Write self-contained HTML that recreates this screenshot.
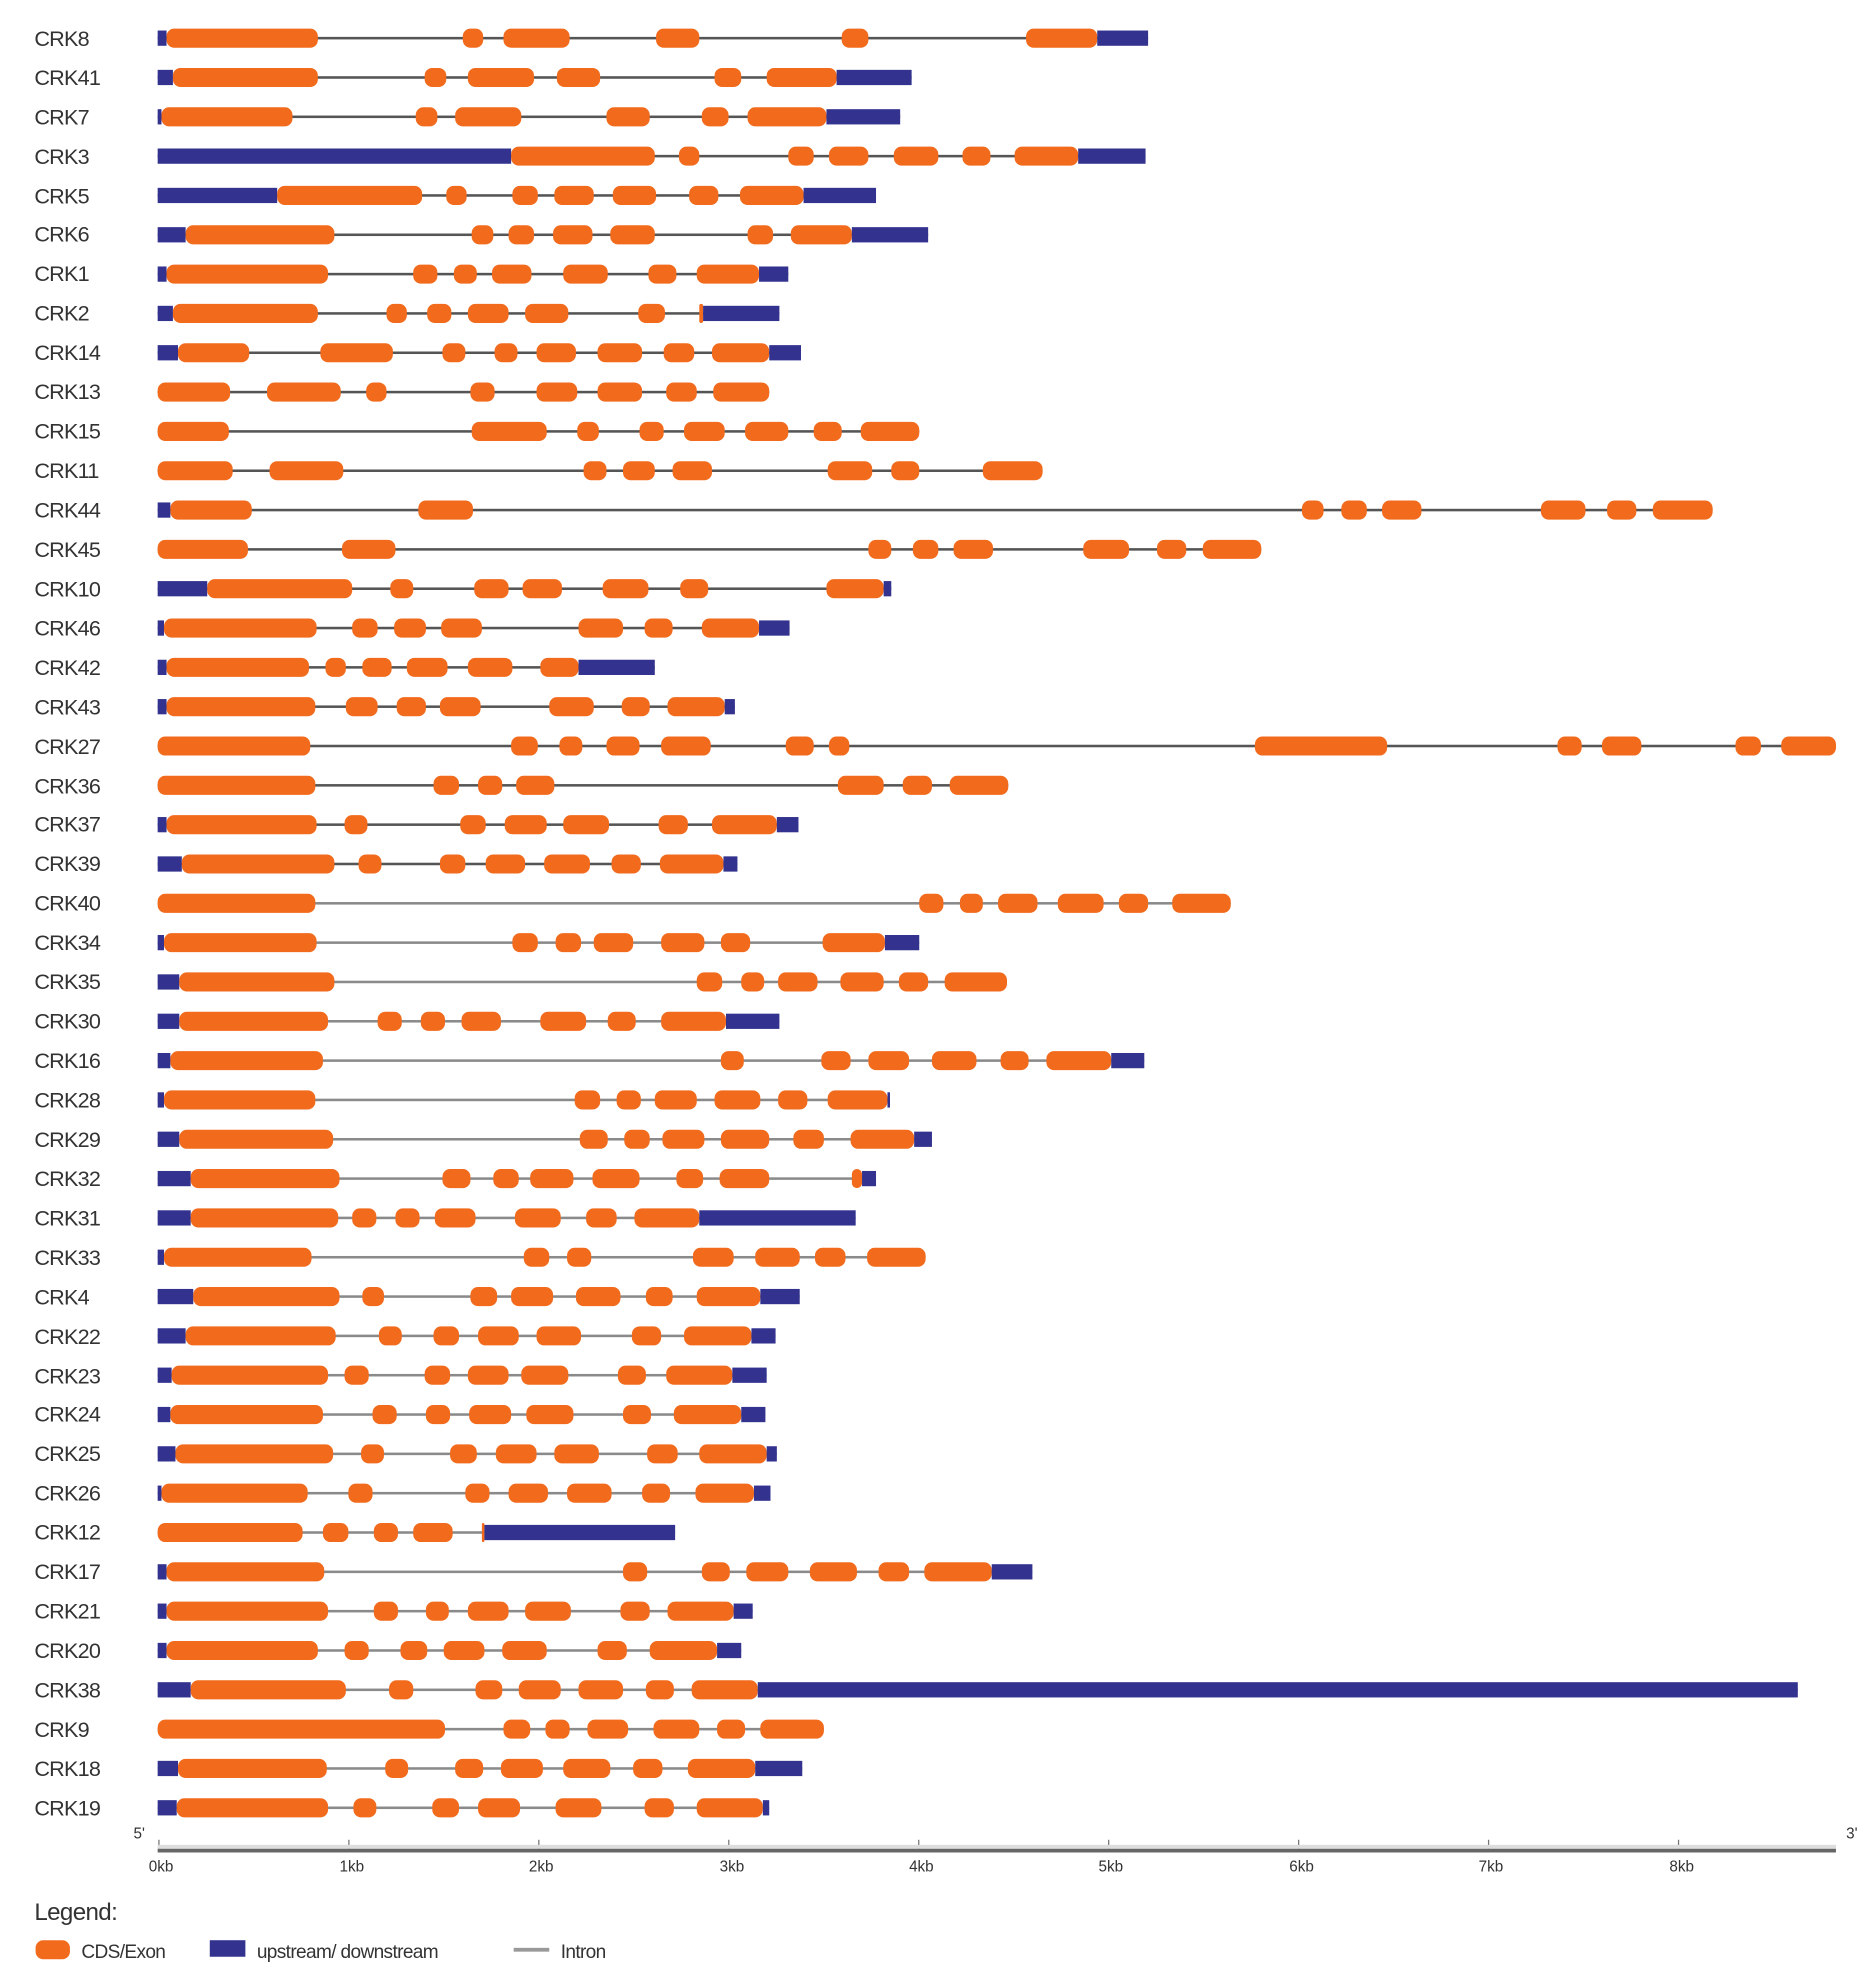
<!DOCTYPE html>
<html><head><meta charset="utf-8"><style>
html,body{margin:0;padding:0;background:#fff;}
svg{display:block;}
text{font-family:"Liberation Sans",sans-serif;fill:#333;}
</style></head><body>
<svg id="s" width="1869" height="1986" viewBox="0 0 1470 1562" xmlns="http://www.w3.org/2000/svg">
<g id="labels" font-size="17" letter-spacing="-0.6">
<text x="27" y="36">CRK8</text><text x="27" y="67">CRK41</text><text x="27" y="98">CRK7</text><text x="27" y="129">CRK3</text><text x="27" y="160">CRK5</text><text x="27" y="190">CRK6</text><text x="27" y="221">CRK1</text><text x="27" y="252">CRK2</text><text x="27" y="283">CRK14</text><text x="27" y="314">CRK13</text><text x="27" y="345">CRK15</text><text x="27" y="376">CRK11</text><text x="27" y="407">CRK44</text><text x="27" y="438">CRK45</text><text x="27" y="469">CRK10</text><text x="27" y="500">CRK46</text><text x="27" y="531">CRK42</text><text x="27" y="562">CRK43</text><text x="27" y="593">CRK27</text><text x="27" y="624">CRK36</text><text x="27" y="654">CRK37</text><text x="27" y="685">CRK39</text><text x="27" y="716">CRK40</text><text x="27" y="747">CRK34</text><text x="27" y="778">CRK35</text><text x="27" y="809">CRK30</text><text x="27" y="840">CRK16</text><text x="27" y="871">CRK28</text><text x="27" y="902">CRK29</text><text x="27" y="933">CRK32</text><text x="27" y="964">CRK31</text><text x="27" y="995">CRK33</text><text x="27" y="1026">CRK4</text><text x="27" y="1057">CRK22</text><text x="27" y="1088">CRK23</text><text x="27" y="1118">CRK24</text><text x="27" y="1149">CRK25</text><text x="27" y="1180">CRK26</text><text x="27" y="1211">CRK12</text><text x="27" y="1242">CRK17</text><text x="27" y="1273">CRK21</text><text x="27" y="1304">CRK20</text><text x="27" y="1335">CRK38</text><text x="27" y="1366">CRK9</text><text x="27" y="1397">CRK18</text><text x="27" y="1428">CRK19</text>
</g>
<g id="bars"></g>
<g id="axis">
<rect x="124" y="1454" width="1320" height="3" fill="#666"/>
<rect x="124" y="1451" width="1320" height="3" fill="#ddd"/>
<text x="105" y="1446" font-size="12">5'</text>
<text x="1452" y="1446" font-size="12">3'</text>
<g font-size="12">
<text x="117" y="1472">0kb</text><text x="267" y="1472">1kb</text><text x="416" y="1472">2kb</text><text x="566" y="1472">3kb</text><text x="715" y="1472">4kb</text><text x="864" y="1472">5kb</text><text x="1014" y="1472">6kb</text><text x="1163" y="1472">7kb</text><text x="1313" y="1472">8kb</text>
</g>
</g>
<text x="27" y="1510" font-size="19" letter-spacing="-0.5">Legend:</text>
<rect x="28" y="1526" width="27" height="15" rx="6" fill="#F26A1C"/>
<text x="64" y="1540" font-size="15" letter-spacing="-0.5">CDS/Exon</text>
<rect x="165" y="1526" width="28" height="13" fill="#33338F"/>
<text x="202" y="1540" font-size="15" letter-spacing="-0.5">upstream/ downstream</text>
<rect x="404" y="1532" width="28" height="3" fill="#999"/>
<text x="441" y="1540" font-size="15" letter-spacing="-0.5">Intron</text>
</svg>
<script>
var D=[
"U124-131 E131-250 E364-380 E396-448 E516-550 E662-683 E807-863 U863-903",
"U124-136 E136-250 E334-351 E368-420 E438-472 E562-583 E603-658 U658-717",
"U124-127 E127-230 E327-344 E358-410 E477-511 E552-573 E588-650 U650-708",
"U124-402 E402-515 E534-550 E620-640 E652-683 E703-738 E757-779 E798-848 U848-901",
"U124-218 E218-332 E351-367 E403-423 E436-467 E482-516 E542-565 E582-632 U632-689",
"U124-146 E146-263 E371-388 E400-420 E435-466 E480-515 E588-608 E622-670 U670-730",
"U124-131 E131-258 E325-344 E357-375 E387-418 E443-478 E510-532 E548-597 U597-620",
"U124-136 E136-250 E304-320 E336-355 E368-400 E413-447 E502-523 E550-553 U553-613",
"U124-140 E140-196 E252-309 E348-366 E389-407 E422-453 E470-505 E522-546 E560-605 U605-630",
"E124-181 E210-268 E288-304 E370-389 E422-454 E470-505 E524-548 E561-605",
"E124-180 E371-430 E454-471 E503-522 E538-570 E586-620 E640-662 E677-723",
"E124-183 E212-270 E459-477 E490-515 E529-560 E651-686 E701-723 E773-820",
"U124-134 E134-198 E329-372 E1024-1041 E1055-1075 E1087-1118 E1212-1247 E1264-1287 E1300-1347",
"E124-195 E269-311 E683-701 E718-738 E750-781 E852-888 E910-933 E946-992",
"U124-163 E163-277 E307-325 E373-400 E411-442 E474-510 E535-557 E650-695 U695-701",
"U124-129 E129-249 E277-297 E310-335 E347-379 E455-490 E507-529 E552-597 U597-621",
"U124-131 E131-243 E256-272 E285-308 E320-352 E368-403 E425-455 U455-515",
"U124-131 E131-248 E272-297 E312-335 E346-378 E432-467 E489-511 E525-570 U570-578",
"E124-244 E402-423 E440-458 E477-503 E520-559 E618-640 E652-668 E987-1091 E1225-1244 E1260-1291 E1365-1385 E1401-1444",
"E124-248 E341-361 E376-395 E406-436 E659-695 E710-733 E747-793",
"U124-131 E131-249 E271-289 E362-382 E397-430 E443-479 E518-541 E560-611 U611-628",
"U124-143 E143-263 E282-300 E346-366 E382-413 E428-464 E481-504 E519-569 U569-580",
"E124-248 E723-742 E755-773 E785-816 E832-868 E880-903 E922-968",
"U124-129 E129-249 E403-423 E437-457 E467-498 E520-554 E567-590 E647-696 U696-723",
"U124-141 E141-263 E548-568 E583-601 E612-643 E661-695 E707-730 E743-792",
"U124-141 E141-258 E297-316 E331-350 E363-394 E425-461 E478-500 E520-571 U571-613",
"U124-134 E134-254 E567-585 E646-669 E683-715 E733-768 E787-809 E823-874 U874-900",
"U124-129 E129-248 E452-472 E485-504 E515-548 E562-598 E612-635 E651-698 U698-700",
"U124-141 E141-262 E456-478 E491-511 E521-554 E567-605 E624-648 E669-719 U719-733",
"U124-150 E150-267 E348-370 E388-408 E417-451 E466-503 E532-553 E566-605 E670-678 U678-689",
"U124-150 E150-266 E277-296 E311-330 E342-374 E405-441 E461-485 E499-550 U550-673",
"U124-129 E129-245 E412-432 E446-465 E545-577 E594-629 E641-665 E682-728",
"U124-152 E152-267 E285-302 E370-391 E402-435 E453-488 E508-529 E548-598 U598-629",
"U124-146 E146-264 E298-316 E341-361 E376-408 E422-457 E497-520 E538-591 U591-610",
"U124-135 E135-258 E271-290 E334-354 E368-400 E410-447 E486-508 E524-576 U576-603",
"U124-134 E134-254 E293-312 E335-354 E369-402 E414-451 E490-512 E530-583 U583-602",
"U124-138 E138-262 E284-302 E354-375 E390-422 E436-471 E509-533 E550-603 U603-611",
"U124-127 E127-242 E274-293 E366-385 E400-431 E446-481 E505-527 E547-593 U593-606",
"E124-238 E254-274 E294-313 E325-356 E379-381 U381-531",
"U124-131 E131-255 E490-509 E552-574 E587-620 E637-674 E691-715 E727-780 U780-812",
"U124-131 E131-258 E294-313 E335-353 E368-400 E413-449 E488-511 E525-577 U577-592",
"U124-131 E131-250 E271-290 E315-336 E349-381 E395-430 E470-493 E511-564 U564-583",
"U124-150 E150-272 E306-325 E374-395 E408-441 E455-490 E508-530 E544-596 U596-1414",
"E124-350 E396-417 E429-448 E462-494 E514-550 E564-586 E598-648",
"U124-140 E140-257 E303-321 E358-380 E394-427 E443-480 E498-521 E541-594 U594-631",
"U124-139 E139-258 E278-296 E340-361 E376-409 E437-473 E507-530 E548-600 U600-605"];
var g=document.getElementById('bars'),h='';
D.forEach(function(r,i){
  var y=30+i*30.93,segs=r.split(' ').map(function(s){var p=s.slice(1).split('-');return [s[0],+p[0],+p[1]];});
  var a=segs[0][1],b=segs[segs.length-1][2];
  var col=i>=22?'#8a8a8a':'#555';
  h+='<rect x="'+a+'" y="'+(y-1)+'" width="'+(b-a)+'" height="2" fill="'+col+'"/>';
  segs.forEach(function(s){
    var w=s[2]-s[1];
    if(s[0]=='E'){var rx=Math.min(6,w/2);h+='<rect x="'+s[1]+'" y="'+(y-7.5)+'" width="'+w+'" height="15" rx="'+rx+'" fill="#F26A1C"/>';}
    else h+='<rect x="'+s[1]+'" y="'+(y-6)+'" width="'+w+'" height="12" fill="#33338F"/>';
  });
});
for(var k=0;k<9;k++){var x=125+k*149.4;h+='<rect x="'+(x-0.5)+'" y="1447" width="1" height="8" fill="#777"/>';}
g.innerHTML=h;
</script>
</body></html>
